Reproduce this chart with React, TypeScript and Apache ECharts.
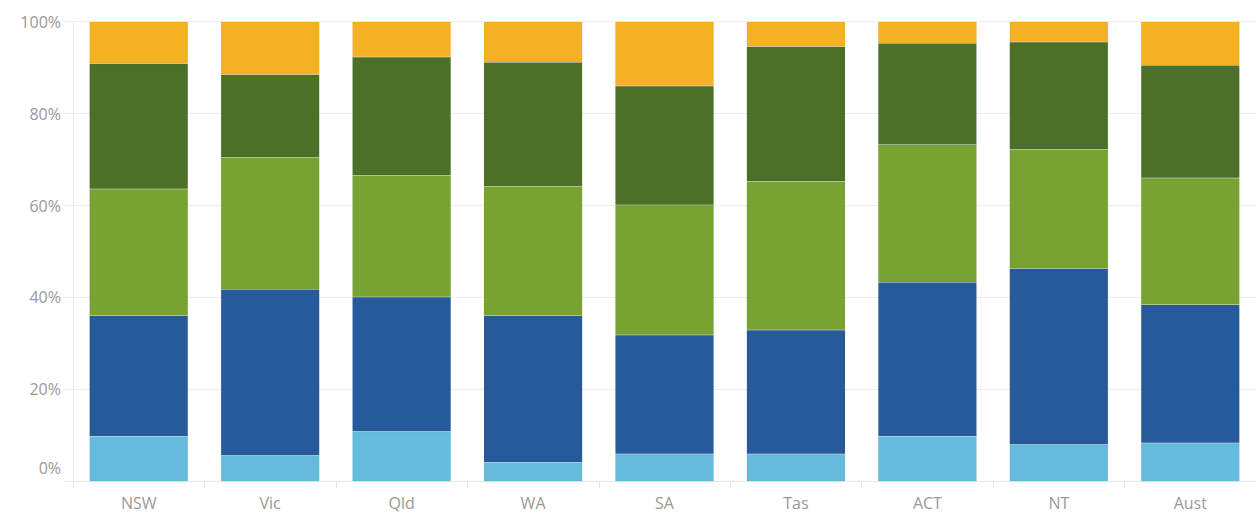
import React, { useEffect, useRef } from "react";
import * as echarts from "echarts";

const categories = ["NSW", "Vic", "Qld", "WA", "SA", "Tas", "ACT", "NT", "Aust"];
const lightBlue = [9.8, 5.6, 10.8, 4.1, 5.9, 5.9, 9.8, 8.0, 8.3];
const darkBlue = [26.2, 36.2, 29.3, 31.9, 25.9, 27.0, 33.5, 38.3, 30.1];
const lightGreen = [27.6, 28.7, 26.5, 28.2, 28.3, 32.4, 29.9, 25.9, 27.6];
const darkGreen = [27.3, 18.0, 25.7, 27.0, 25.9, 29.3, 22.1, 23.4, 24.5];
const orange = [9.1, 11.5, 7.7, 8.8, 14.0, 5.4, 4.7, 4.4, 9.5];
const yTicks = [0, 20, 40, 60, 80, 100];

const seriesDefs = [
  { name: "Group 1", data: lightBlue, color: "#64BBDB" },
  { name: "Group 2", data: darkBlue, color: "#265A9A" },
  { name: "Group 3", data: lightGreen, color: "#78A232" },
  { name: "Group 4", data: darkGreen, color: "#4C7028" },
  { name: "Group 5", data: orange, color: "#F4B124" },
];

export default function App() {
  const ref = useRef<HTMLDivElement>(null);
  useEffect(() => {
    document.body.style.margin = "0";
    const chart = echarts.init(ref.current!, null, { renderer: "svg" });
    const font = "Open Sans";
    const labelColor = "#999999";
    chart.setOption({
      animation: false,
      grid: { left: 73, right: 0, top: 21.7, bottom: 34.8, containLabel: false },
      xAxis: {
        type: "category",
        data: categories,
        axisLine: { show: true, lineStyle: { color: "#e6e6e6", width: 1 } },
        axisTick: { show: true, length: 7, alignWithLabel: false, lineStyle: { color: "#e6e6e6" } },
        axisLabel: { color: labelColor, fontSize: 16, fontFamily: font, margin: 14 },
        splitLine: { show: false },
      },
      yAxis: {
        type: "value",
        min: 0,
        max: 100,
        interval: 20,
        axisLine: { show: true, lineStyle: { color: "#eeeeee", width: 1 } },
        axisTick: { show: true, length: 10, lineStyle: { color: "#eeeeee" } },
        splitLine: { show: true, lineStyle: { color: "#eeeeee", width: 1 } },
        axisLabel: {
          color: labelColor,
          fontSize: 16,
          fontFamily: font,
          margin: 12,
          formatter: (v: number) => (v === yTicks[0] ? "{z|" + v + "%}" : v + "%"),
          rich: {
            z: { color: labelColor, fontSize: 16, fontFamily: font, padding: [0, 0, 26, 0] },
          },
        },
      },
      series: seriesDefs.map((s) => ({
        name: s.name,
        type: "bar",
        stack: "total",
        barWidth: "75%",
        data: s.data,
        itemStyle: { color: s.color, borderColor: "rgba(0,0,0,0.08)", borderWidth: 0.5 },
      })),
    });
    return () => chart.dispose();
  }, []);
  return <div ref={ref} style={{ width: 1256, height: 516 }} />;
}
